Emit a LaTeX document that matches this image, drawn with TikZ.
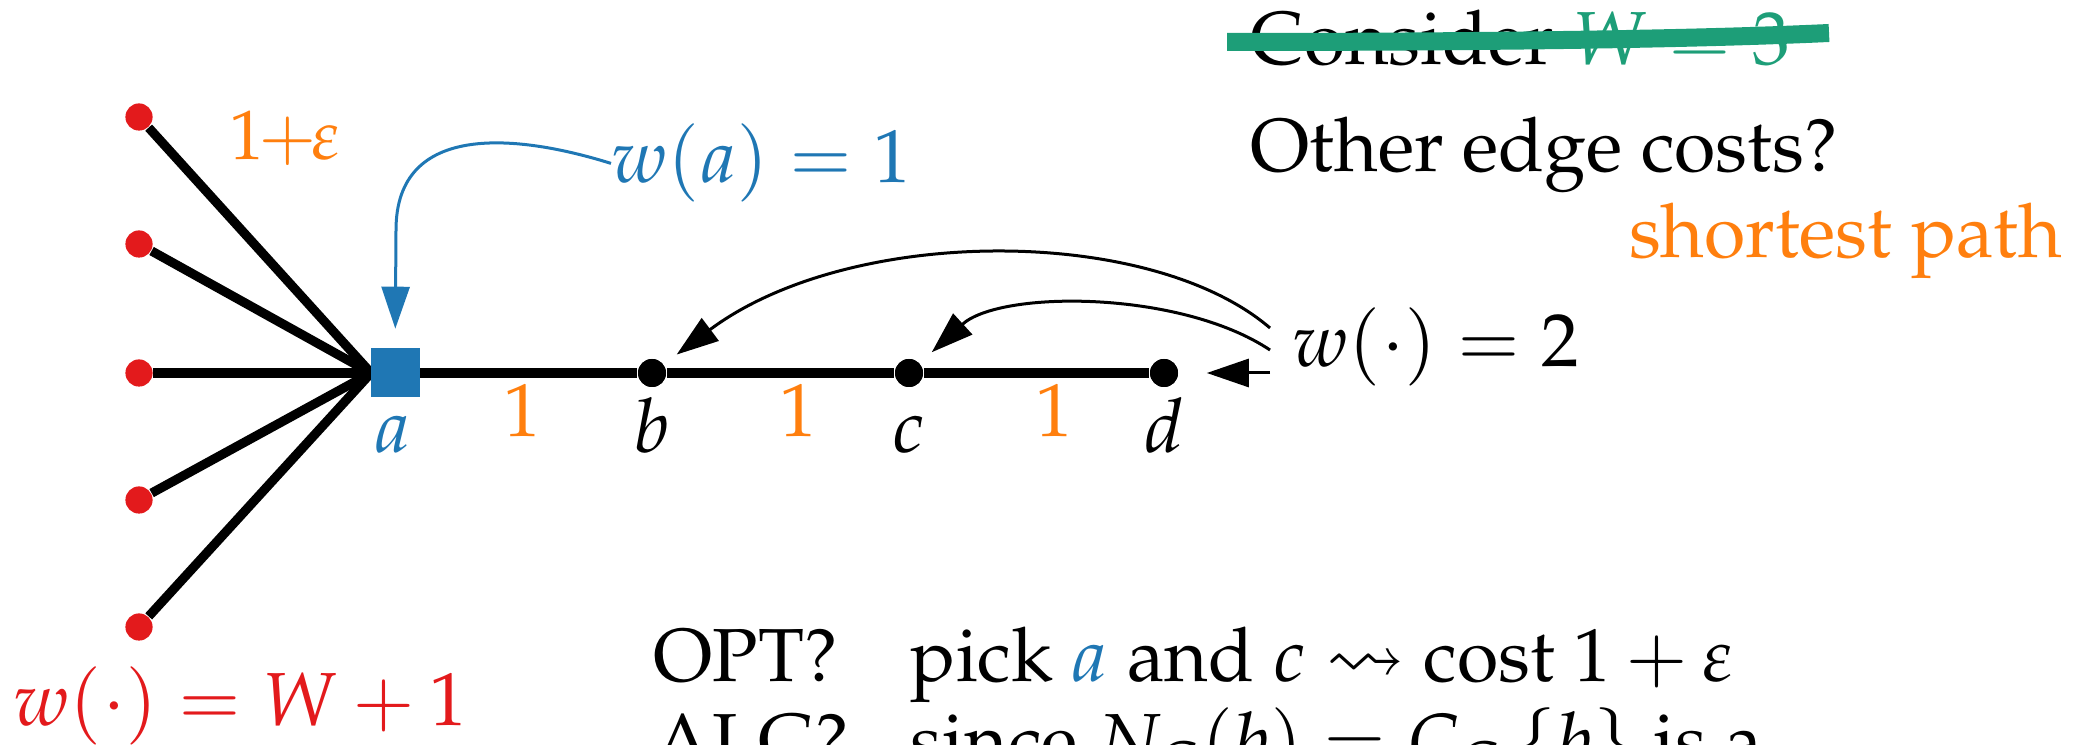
\documentclass[tikz,border=0pt]{standalone}
\usepackage[T1]{fontenc}
\usepackage{mathpazo}
\usepackage{amssymb}
\usetikzlibrary{arrows.meta}
\definecolor{myblue}{HTML}{1F77B4}
\definecolor{myorange}{HTML}{FF7F0E}
\definecolor{myred}{HTML}{E31A1C}
\definecolor{mygreen}{HTML}{1D9E78}
\begin{document}
\begin{tikzpicture}[x=0.25pt,y=-0.25pt,
  font=\fontsize{18.8}{22}\selectfont,
  reddot/.style={circle, fill=myred, inner sep=0pt, minimum size=6.8pt},
  blackdot/.style={circle, fill=black, inner sep=0pt, minimum size=7pt},
  sqnode/.style={rectangle, fill=myblue, inner sep=0pt, minimum size=12.25pt},
  thickedge/.style={line width=2.3pt},
  arr/.style={line width=0.75pt, -{Triangle[length=10.5pt,width=7pt]}},
  txt/.style={inner sep=0pt, anchor=base west},
  lbl/.style={inner sep=0pt, anchor=base},
  elbl/.style={inner sep=0pt, anchor=base, text=myorange}]
\useasboundingbox (0,0) rectangle (2073,745);

% nodes
\node[reddot] (r1) at (139,117) {};
\node[reddot] (r2) at (139,244) {};
\node[reddot] (r3) at (139,373) {};
\node[reddot] (r4) at (139,500) {};
\node[reddot] (r5) at (139,627) {};
\coordinate (aw) at (371,373);
\coordinate (apos) at (395,373);
\node[blackdot] (b) at (652,373) {};
\node[blackdot] (c) at (909,373) {};
\node[blackdot] (d) at (1164,373) {};

% edges
\foreach \r in {r1,r2,r3,r4,r5} \draw[thickedge] (\r) -- (aw);
\draw[thickedge] (aw) -- (b) -- (c) -- (d);
\node[sqnode] (a) at (apos) {};
\node[blackdot] at (b) {};
\node[blackdot] at (c) {};
\node[blackdot] at (d) {};

% labels
\node[lbl, text=myblue] (la) at (393,453) {$a$};
\node[lbl] (lb) at (652,453) {$b$};
\node[lbl] (lc) at (909,453) {$c$};
\node[lbl] (ld) at (1164,453) {$d$};
\node[elbl] (e1) at (522,437) {1};
\node[elbl] (e2) at (798,437) {1};
\node[elbl] (e3) at (1054,437) {1};
\node[txt, text=myorange, font=\fontsize{17.5}{21}\selectfont] (eps) at (229,160) {$1\mkern-1.5mu{+}\mkern-1.5mu\varepsilon$};

% w(a)=1
\node[txt, text=myblue] (wa) at (611,183) {$w(a) = 1$};
\draw[myblue, line width=0.75pt, -{Triangle[length=10.5pt,width=7pt]}, shorten >=4.75pt]
  (wa.west) .. controls (520,135) and (396,120) .. (396,230) -- (a);

% red label
\node[txt, text=myred] (wW) at (13,726) {$w(\cdot) = W + 1$};

% w(.)=2
\node[txt] (w2) at (1292,367) {$w(\cdot) = 2$};
\coordinate (s1) at (1270,328);
\coordinate (s2) at (1270,350);
\coordinate (s3) at (1270,373);
\draw[arr, shorten >=4pt] (s1) .. controls (1150,225) and (850,225) .. (b);
\draw[arr, shorten >=4pt] (s2) .. controls (1180,290) and (1000,290) .. (c);
\draw[arr, shorten >=7pt] (s3) -- (d);

% top right
\node[txt] (cons) at (1250,65) {Consider \textcolor{mygreen}{$W = 3$}};
\draw[mygreen, line width=4.5pt] (1227,42) .. controls (1500,42) and (1700,39) .. (1829,33);
\node[txt] (other) at (1250,172) {Other edge costs?};
\node[inner sep=0pt, anchor=base east, text=myorange] (sp) at (2063,258) {shortest path};

% bottom text
\node[txt] (opt) at (653,682) {OPT?};
\node[txt] (optt) at (910,682) {pick \textcolor{myblue}{$a$} and $c \rightsquigarrow$ cost $1+\varepsilon$};
\node[txt] (alg) at (653,767) {ALG?};
\node[txt] (algt) at (910,767) {since $N_{G}(b) = C_{G}\,\{b\}$ is a};
\end{tikzpicture}
\end{document}
